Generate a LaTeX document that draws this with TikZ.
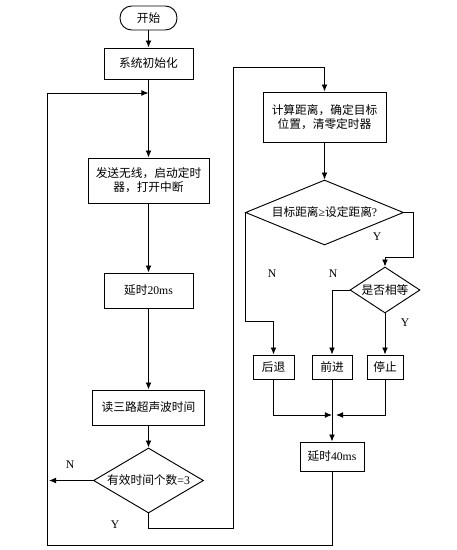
\documentclass[tikz,border=0pt]{standalone}
\usepackage{fontspec}
\setmainfont{Liberation Serif}
\newfontfamily\cjk{Noto Sans CJK SC}
\usetikzlibrary{shapes.geometric,arrows,arrows.meta,positioning}

\begin{document}
\begin{tikzpicture}[x=0.03cm,y=-0.03cm]
\tikzstyle{proc}=[rectangle,draw=black,line width=0.8pt,
inner sep=1pt,align=center,font=\cjk]
\tikzstyle{decide}=[diamond,draw=black,line width=0.8pt,
inner sep=0pt,font=\cjk]
\tikzstyle{line}=[draw,line width=0.8pt,-{Latex[length=6pt,width=5pt]}]
\tikzstyle{lab}=[font=\rmfamily,inner sep=1pt]

\useasboundingbox (0,0) rectangle (457,550);

% left column
\node[proc,rounded corners=0.35cm,minimum width=1.71cm,minimum height=0.72cm] at (148.5,18) (start) {开始};
\node[proc,minimum width=2.67cm,minimum height=0.93cm] at (148.5,63.5) (init) {系统初始化};
\node[proc,minimum width=3.63cm,minimum height=1.35cm] at (148.5,180.5) (send) {发送无线，启动定时\\器，打开中断};
\node[proc,minimum width=2.67cm,minimum height=1.05cm] at (148.5,290.5) (wait20) {延时{\rmfamily 20ms}};
\node[proc,minimum width=3.36cm,minimum height=1.05cm] at (148.5,407.5) (read) {读三路超声波时间};
\node[decide,aspect=1.7,minimum width=3.3cm,minimum height=1.95cm] at (148.5,480.5) (valid) {有效时间个数{\rmfamily =3}};

% right column
\node[proc,minimum width=3.69cm,minimum height=1.5cm] at (324.5,117) (calc) {计算距离，确定目标\\位置，清零定时器};
\node[decide,aspect=2.4,minimum width=4.74cm,minimum height=1.95cm] at (324.5,212.5) (far) {目标距离{\rmfamily ≥}设定距离{\rmfamily ?}};
\node[decide,aspect=1.5,minimum width=2.1cm,minimum height=1.38cm] at (385,290) (equal) {是否相等};
\node[proc,minimum width=1.23cm,minimum height=0.72cm] at (273.5,367) (back) {后退};
\node[proc,minimum width=1.2cm,minimum height=0.72cm] at (332,367) (fwd) {前进};
\node[proc,minimum width=1.08cm,minimum height=0.72cm] at (385,367) (stop) {停止};
\node[proc,minimum width=1.92cm,minimum height=0.87cm] at (332,456.5) (wait40) {延时{\rmfamily 40ms}};

% labels
\node[lab] at (70,465) (n1) {N};
\node[lab] at (115,525) (y1) {Y};
\node[lab] at (377,237) (y2) {Y};
\node[lab] at (272,274) (n2) {N};
\node[lab] at (333,274) (n3) {N};
\node[lab] at (405,323) (y3) {Y};

% bend points
\coordinate (loopin) at (148.5,93);
\coordinate (nend) at (49,480.5);
\coordinate (ybend) at (233,528);
\coordinate (ctop) at (324.5,67);
\coordinate (yb) at (413,257);
\coordinate (nb) at (273.5,321);
\coordinate (mrg) at (332,415);
\coordinate (mrgr) at (336,415);
\coordinate (lb) at (47,545);

\path[line] (start) -- (init);
\path[line] (init) -- (send);
\path[line] (send) -- (wait20);
\path[line] (wait20) -- (read);
\path[line] (read) -- (valid);
\path[line] (valid.west) -- (nend);
\path[line] (valid.south) |- (ybend) |- (ctop) -- (calc.north);
\path[line] (calc) -- (far);
\path[line] (far.east) -| (yb) -- (yb -| equal.north) -- (equal.north);
\path[line] (far.west) |- (nb) -- (back.north);
\path[line] (equal.west) -| (fwd.north);
\path[line] (equal.south) -- (stop.north);
\path[line] (back.south) |- (mrg);
\path[line] (stop.south) |- (mrgr);
\path[line] (fwd.south) -- (wait40.north);
\path[line] (wait40.south) |- (lb) |- (loopin);

\end{tikzpicture}
\end{document}
